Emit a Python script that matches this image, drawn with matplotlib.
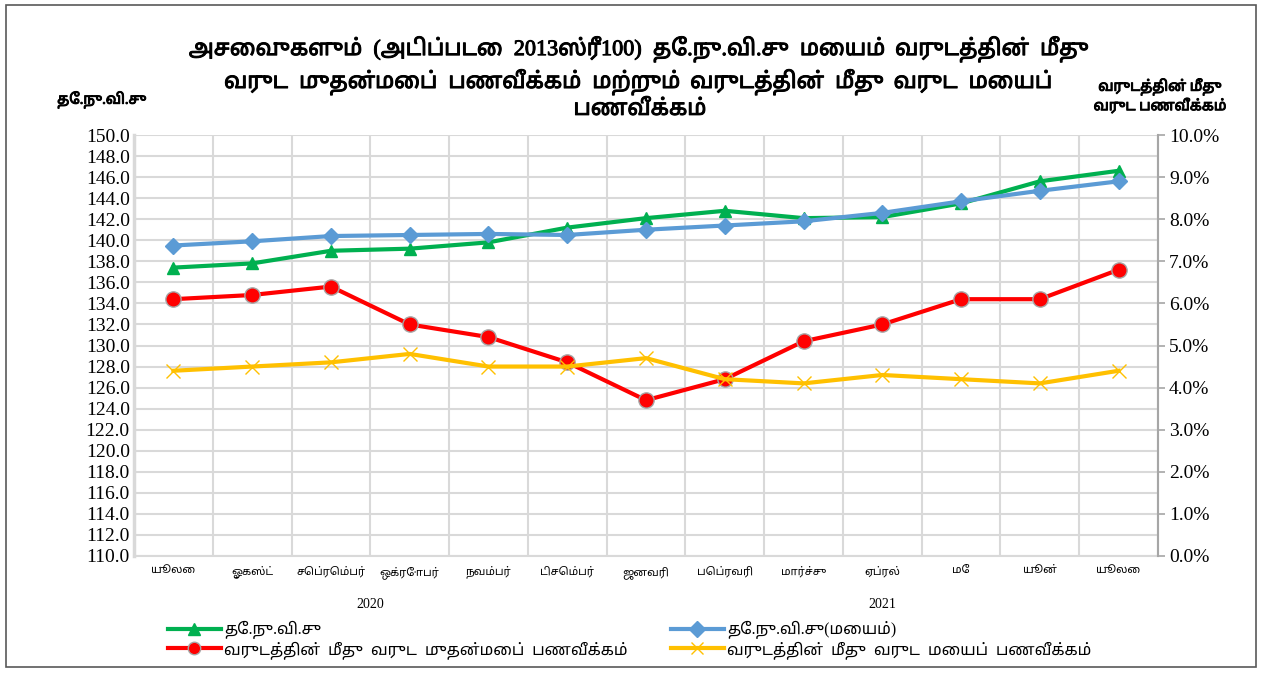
import matplotlib
matplotlib.use("Agg")
import matplotlib.pyplot as plt
import matplotlib.patheffects as pe
import numpy as np
from matplotlib.patches import Rectangle
from matplotlib.lines import Line2D

# data
months = ["யூலை", "ஓகஸ்ட்", "செப்ரெம்பர்", "ஒக்ரோபர்", "நவம்பர்", "டிசெம்பர்", "ஜனவரி",
          "பெப்ரவரி", "மார்ச்சு", "ஏப்ரல்", "மே", "யூன்", "யூலை"]
years = ["2020", "2021"]
ncpi = [137.4, 137.8, 139.0, 139.2, 139.8, 141.2, 142.1, 142.8, 142.1, 142.2, 143.5, 145.6, 146.6]
ncpi_core = [139.5, 139.9, 140.4, 140.5, 140.6, 140.5, 141.0, 141.4, 141.8, 142.6, 143.7, 144.7, 145.6]
headline_infl = [6.1, 6.2, 6.4, 5.5, 5.2, 4.6, 3.7, 4.2, 5.1, 5.5, 6.1, 6.1, 6.8]
core_infl = [4.4, 4.5, 4.6, 4.8, 4.5, 4.5, 4.7, 4.2, 4.1, 4.3, 4.2, 4.1, 4.4]

labels = ["தே.நு.வி.சு", "தே.நு.வி.சு(மையம்)",
          "வருடத்தின்  மீது  வருட  முதன்மைப்  பணவீக்கம்",
          "வருடத்தின்  மீது  வருட  மையப்  பணவீக்கம்"]
title = ("அசைவுகளும்  (அடிப்படை  2013ஸ்ரீ100)  தே.நு.வி.சு  மையம்  வருடத்தின்  மீது\n"
         "வருட  முதன்மைப்  பணவீக்கம்  மற்றும்  வருடத்தின்  மீது  வருட  மையப்\n"
         "பணவீக்கம்")

# Latin/digits in a Times-like face, Tamil falls through to Noto Sans Tamil
plt.rcParams["font.family"] = ["Liberation Serif", "Noto Sans Tamil", "DejaVu Sans"]
bold = [pe.withStroke(linewidth=0.7, foreground="black")]

W, H = 1263, 673
fig = plt.figure(figsize=(W / 100, H / 100), dpi=100)
fig.patches.append(Rectangle((6 / W, 6 / H), 1250 / W, 662 / H, transform=fig.transFigure,
                             fill=False, edgecolor="#595959", lw=1.2))

ax = fig.add_axes([134 / W, (H - 556) / H, 1024 / W, 421 / H])
ax2 = ax.twinx()
x = np.arange(len(months))

ax.set_xlim(-0.5, 12.5)
ax.set_ylim(110, 150)
ax.set_yticks(np.arange(110, 151, 2))
ax.set_yticklabels([f"{v:.1f}" for v in np.arange(110, 151, 2)], fontsize=14)
ax.set_xticks(x)
ax.set_xticklabels(months, fontsize=8)
ax.set_xticks(np.arange(-0.5, 13, 1), minor=True)
ax.tick_params(axis="x", which="major", length=0, pad=7)
ax.tick_params(axis="x", which="minor", length=0)
ax.tick_params(axis="y", length=0, pad=3)
ax.grid(True, axis="y", color="#D9D9D9", lw=1.5)
ax.grid(True, axis="x", which="minor", color="#D9D9D9", lw=1.5)
ax.set_axisbelow(True)
for s in ax.spines.values():
    s.set_color("#D9D9D9")
    s.set_linewidth(1.5)
ax.spines["top"].set_visible(False)
ax.spines["left"].set_linewidth(2.5)

ax2.set_ylim(0, 10)
ax2.set_yticks(np.arange(0, 10.1, 1))
ax2.set_yticklabels([f"{v:.1f}%" for v in np.arange(0, 10.1, 1)], fontsize=14)
ax2.tick_params(axis="y", length=5, width=1.2, color="#A6A6A6", pad=3)
for s in ax2.spines.values():
    s.set_visible(False)
ax2.spines["right"].set_visible(True)
ax2.spines["right"].set_color("#A6A6A6")
ax2.spines["right"].set_linewidth(1.5)

ax.plot(x, ncpi, color="#00B050", lw=3, marker="^", ms=8, zorder=3)
ax.plot(x, ncpi_core, color="#5B9BD5", lw=3, marker="D", ms=8, zorder=3)
ax2.plot(x, headline_infl, color="#FF0000", lw=3, marker="o", ms=11,
         markeredgecolor="#A6A6A6", markeredgewidth=1, zorder=3)
ax2.plot(x, core_infl, color="#FFC000", lw=3, marker="x", ms=10, markeredgewidth=1, zorder=3)

fig.text(370 / W, 1 - 604 / H, years[0], fontsize=10, ha="center", va="center")
fig.text(882 / W, 1 - 604 / H, years[1], fontsize=10, ha="center", va="center")

fig.text(640 / W, 1 - 78 / H, title, fontsize=16, ha="center", va="center",
         linespacing=1.35, path_effects=bold)
fig.text(102 / W, 1 - 100 / H, "தே.நு.வி.சு", fontsize=10.5, ha="center", va="center",
         path_effects=bold)
fig.text(1160 / W, 1 - 96 / H, "வருடத்தின் மீது\nவருட பணவீக்கம்", fontsize=10.5,
         ha="center", va="center", linespacing=1.25, path_effects=bold)

styles = [dict(color="#00B050", marker="^", ms=8),
          dict(color="#5B9BD5", marker="D", ms=8),
          dict(color="#FF0000", marker="o", ms=9, markeredgecolor="#A6A6A6"),
          dict(color="#FFC000", marker="x", ms=9)]
handles = [Line2D([], [], lw=3, **st) for st in styles]
fig.legend([handles[0], handles[2]], [labels[0], labels[2]], loc="upper left",
           bbox_to_anchor=(160 / W, 1 - 613 / H), frameon=False, fontsize=11.5,
           handlelength=3.3, handletextpad=0.2, labelspacing=0.1, borderpad=0)
fig.legend([handles[1], handles[3]], [labels[1], labels[3]], loc="upper left",
           bbox_to_anchor=(663 / W, 1 - 613 / H), frameon=False, fontsize=11.5,
           handlelength=3.3, handletextpad=0.2, labelspacing=0.1, borderpad=0)

fig.savefig("out.png", dpi=100)
